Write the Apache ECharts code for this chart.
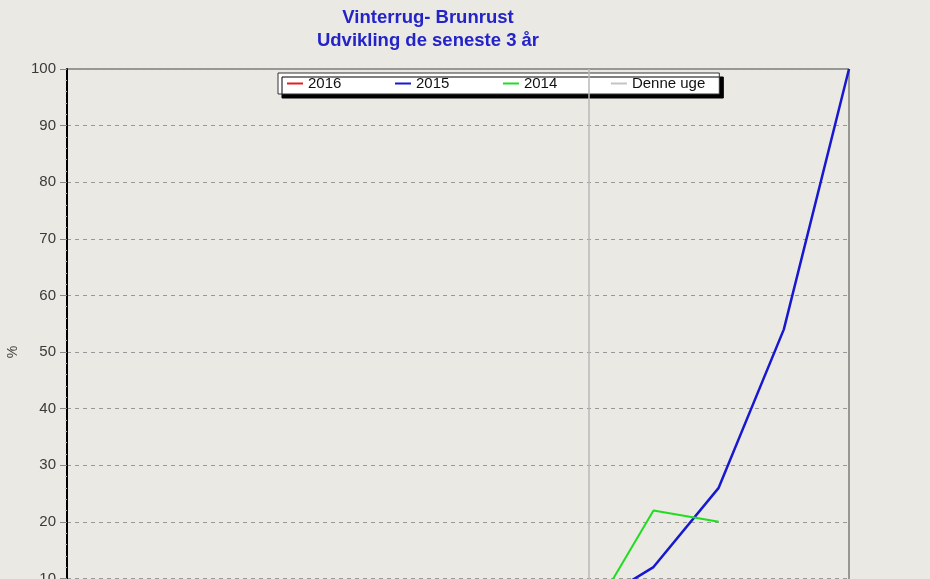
<!DOCTYPE html>
<html>
<head>
<meta charset="utf-8">
<script src="https://cdn.jsdelivr.net/npm/echarts@6/dist/echarts.min.js"></script>
<style>
    html, body { margin: 0; padding: 0; overflow: hidden; background: #eae9e4; }
    #chart { width: 930px; height: 700px; }
</style>
</head>
<body>
<div id="chart"></div>
<script>
    // uger (x-akse, ligger under billedkanten)
    var weeks = ['13', '14', '15', '16', '17', '18', '19', '20', '21', '22', '23', '24', '25'];
    var yTicks = [0, 10, 20, 30, 40, 50, 60, 70, 80, 90, 100];

    var y2016 = [0, 0, 0, 0, 0, 0, 0, 0, 0, null, null, null, null];
    var y2015 = [0, 0, 0, 0, 0, 0.5, 1, 3, 5, 12, 26, 54, 100];
    var y2014 = [0, 0, 0, 0, 0, 0, 0.5, 1, 2.5, 22, 20, null, null];
    var currentWeek = '21';

    var chart = echarts.init(document.getElementById('chart'));

    function lineSeries(name, data, color, width) {
        return {
            name: name,
            type: 'line',
            data: data,
            symbol: 'none',
            z: 3,
            itemStyle: {color: color},
            lineStyle: {color: color, width: width}
        };
    }

    var option = {
        backgroundColor: '#eae9e4',
        animation: false,
        title: {
            text: 'Vinterrug- Brunrust\nUdvikling de seneste 3 år',
            left: 428,
            top: 6,
            textAlign: 'center',
            padding: 0,
            textStyle: {
                fontFamily: 'Liberation Sans',
                fontSize: 18.5,
                fontWeight: 'bold',
                color: '#2323c8',
                lineHeight: 23
            }
        },
        legend: {
            left: 278,
            top: 73,
            z: 1,
            padding: [3, 14, 3, 9],
            itemGap: 53.6,
            icon: 'rect',
            itemWidth: 16,
            itemHeight: 2,
            backgroundColor: '#ffffff',
            borderColor: '#333',
            borderWidth: 1,
            shadowColor: '#000',
            shadowBlur: 0,
            shadowOffsetX: 4,
            shadowOffsetY: 4,
            data: ['2016', '2015', '2014', 'Denne uge'],
            textStyle: {
                fontFamily: 'Liberation Sans',
                fontSize: 15,
                color: '#111'
            }
        },
        grid: {
            left: 67,
            right: 81,
            top: 69,
            bottom: 65,
            outerBoundsMode: 'none',
            containLabel: false,
            show: true,
            borderColor: '#444',
            borderWidth: 1,
            backgroundColor: 'transparent'
        },
        xAxis: {
            type: 'category',
            data: weeks,
            boundaryGap: false,
            axisLine: {lineStyle: {color: '#000', width: 2}},
            axisTick: {show: false},
            axisLabel: {show: false},
            splitLine: {show: false}
        },
        yAxis: {
            type: 'value',
            min: yTicks[0],
            max: yTicks[yTicks.length - 1],
            interval: 10,
            name: '%',
            nameLocation: 'middle',
            nameRotate: 90,
            nameGap: 44,
            nameTextStyle: {fontFamily: 'Liberation Sans', fontSize: 14, color: '#444'},
            axisLine: {show: true, lineStyle: {color: '#000', width: 2}},
            axisTick: {show: true, length: 7, lineStyle: {color: '#888'}},
            minorTick: {show: true, splitNumber: 5, length: 2, lineStyle: {color: '#bbb'}},
            axisLabel: {
                margin: 11,
                fontFamily: 'Liberation Sans',
                fontSize: 15,
                color: '#3a3a3a'
            },
            splitLine: {lineStyle: {color: '#999', type: [4, 4], width: 1}}
        },
        series: [
            lineSeries('2016', y2016, '#e02020', 2),
            lineSeries('2015', y2015, '#1818d0', 2.5),
            lineSeries('2014', y2014, '#20dd20', 2),
            {
                name: 'Denne uge',
                type: 'line',
                data: [],
                z: 5,
                itemStyle: {color: '#c4c4c4'},
                markLine: {
                    silent: true,
                    symbol: 'none',
                    label: {show: false},
                    lineStyle: {color: '#b8b8b8', type: 'solid', width: 1.5},
                    data: [{xAxis: currentWeek}]
                }
            }
        ]
    };

    chart.setOption(option);
</script>
</body>
</html>
